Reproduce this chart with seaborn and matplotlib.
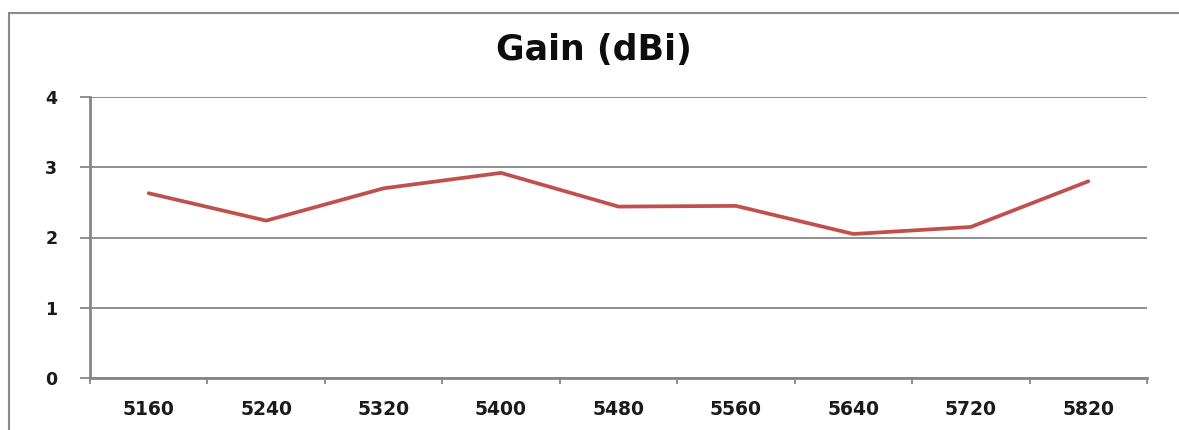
import matplotlib
matplotlib.use("Agg")
import matplotlib.pyplot as plt
from matplotlib.lines import Line2D
import seaborn as sns
import pandas as pd

frequencies = ["5160", "5240", "5320", "5400", "5480", "5560", "5640", "5720", "5820"]
gain_dbi = [2.63, 2.24, 2.70, 2.92, 2.44, 2.45, 2.05, 2.15, 2.80]
y_ticks = [0, 1, 2, 3, 4]

sns.set_theme(style="white")
plt.rcParams['font.family'] = ['DejaVu Sans']

W, H = 1179, 430
fig = plt.figure(figsize=(W / 100, H / 100), dpi=100)
ax = fig.add_axes([90 / W, 1 - 378 / H, (1147 - 90) / W, (378 - 97) / H])

df = pd.DataFrame({"freq": frequencies, "gain": gain_dbi})
sns.lineplot(data=df, x="freq", y="gain", ax=ax, color="#C0504D",
             linewidth=2.7, sort=False)

grid_c = "#868686"
ax.set_ylim(0, 4)
ax.set_xlim(-0.5, len(frequencies) - 0.5)
ax.set_yticks(y_ticks)
ax.set_yticklabels([str(t) for t in y_ticks], fontsize=12.5, fontweight="bold", color="#1a1a1a")
ax.yaxis.grid(True, color=grid_c, linewidth=1.3)
ax.set_axisbelow(True)

ax.set_xticks([i - 0.5 for i in range(len(frequencies) + 1)])
ax.set_xticklabels([])
ax.set_xticks(list(range(len(frequencies))), minor=True)
ax.set_xticklabels(frequencies, minor=True, fontsize=13.5, fontweight="bold", color="#1a1a1a")
ax.tick_params(axis="x", which="major", length=4.5, width=1.3, color=grid_c, direction="out", bottom=True)
ax.tick_params(axis="x", which="minor", length=0, pad=16)
ax.tick_params(axis="y", which="major", length=7.5, width=1.3, color=grid_c, direction="out", left=True, pad=16)

for s in ["top", "right"]:
    ax.spines[s].set_visible(False)
for s in ["left", "bottom"]:
    ax.spines[s].set_color(grid_c)
    ax.spines[s].set_linewidth(2)
ax.set_xlabel("")
ax.set_ylabel("")

fig.text(594 / W, 1 - 50 / H, "Gain (dBi)", ha="center", va="center",
         fontsize=25, fontweight="bold", color="#0d0d0d")

# chart-area border (left and top edges visible)
fig.add_artist(Line2D([9 / W, 9 / W], [0, 1 - 13 / H], transform=fig.transFigure,
                      color="#8a8a8a", linewidth=1.5))
fig.add_artist(Line2D([9 / W, 1], [1 - 13 / H, 1 - 13 / H], transform=fig.transFigure,
                      color="#8a8a8a", linewidth=1.5))

fig.savefig("out.png", dpi=100)
